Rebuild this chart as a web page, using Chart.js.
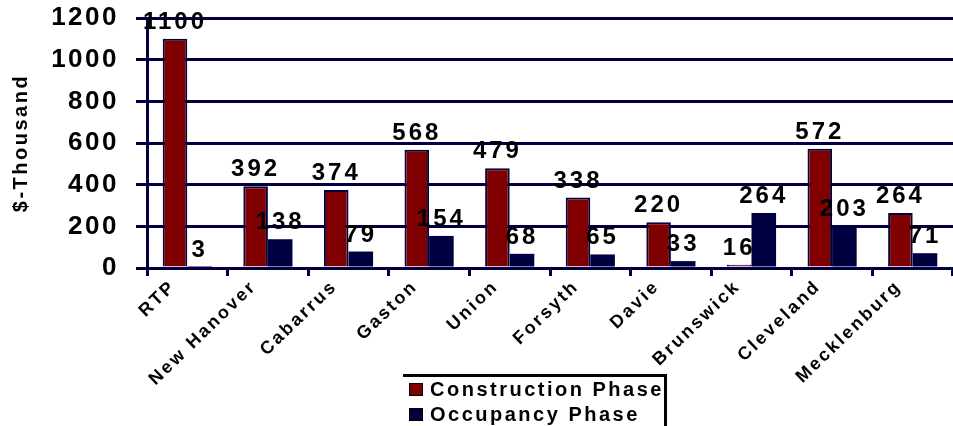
<!DOCTYPE html>
<html>
<head>
<meta charset="utf-8">
<script src="https://cdn.jsdelivr.net/npm/chart.js@4.4.1/dist/chart.umd.min.js"></script>
<style>
    html, body { margin: 0; padding: 0; background: #fff; }
    #wrap { position: relative; width: 953px; height: 426px; overflow: hidden; }
    #legend-div {
        position: absolute; left: 403px; top: 374px; width: 261px; height: 70px;
        border-top: 3px solid #000; border-right: 3px solid #000;
        font: bold 20px "Liberation Sans", Arial, sans-serif; letter-spacing: 2.5px; color: #000;
    }
    #legend-div ul { list-style: none; margin: 0; padding: 0; }
    #legend-div li { position: relative; height: 25px; line-height: 25px; padding-left: 27px; white-space: nowrap; }
    #legend-div li span { position: absolute; left: 6px; top: 6px; width: 12px; height: 11px; border: 1px solid #000; }
</style>
</head>
<body>
<div id="wrap">
    <canvas id="barChartCanvas" width="953" height="426"></canvas>
    <div id="legend-div"></div>
</div>
<script>
let counties = ['RTP', 'New Hanover', 'Cabarrus', 'Gaston', 'Union', 'Forsyth', 'Davie', 'Brunswick', 'Cleveland', 'Mecklenburg'];
let constructionPhase = [1100, 392, 374, 568, 479, 338, 220, 16, 572, 264];
let occupancyPhase = [3, 138, 79, 154, 68, 65, 33, 264, 203, 71];
let yTicks = [0, 200, 400, 600, 800, 1000, 1200];

let fontFamily = '"Liberation Sans", Arial, sans-serif';
Chart.defaults.font.family = fontFamily;

// the old chart spaces its letters wide
let spacing = {
    id: 'spacing',
    beforeUpdate: function (chart) { chart.ctx.letterSpacing = '2.5px'; },
    beforeDraw: function (chart) { chart.ctx.letterSpacing = '2.5px'; }
};

let valueLabels = {
    id: 'valueLabels',
    afterDatasetsDraw: function (chart) {
        let ctx = chart.ctx;
        ctx.save();
        ctx.font = 'bold 24px ' + fontFamily;
        ctx.letterSpacing = '3px';
        ctx.fillStyle = '#000';
        ctx.textAlign = 'center';
        ctx.textBaseline = 'alphabetic';
        chart.data.datasets.forEach(function (ds, i) {
            chart.getDatasetMeta(i).data.forEach(function (bar, j) {
                ctx.fillText(ds.data[j], bar.x, bar.y - 10);
            });
        });
        ctx.restore();
    }
};

let barChartData = {
    labels: counties,
    datasets: [{
        label: 'Construction Phase',
        data: constructionPhase,
        backgroundColor: '#800000',
        borderColor: '#000040',
        borderWidth: 2
    }, {
        label: 'Occupancy Phase',
        data: occupancyPhase,
        backgroundColor: '#000040',
        borderColor: '#000040',
        borderWidth: 0
    }]
};

let barChartDraw = function () {
    let ctx = document.getElementById('barChartCanvas').getContext('2d');

    window.barChart = new Chart(ctx, {
        type: 'bar',
        data: barChartData,
        plugins: [spacing, valueLabels],
        options: {
            responsive: false,
            animation: false,
            layout: { padding: { top: 18, right: 0, bottom: 0, left: 0 } },
            datasets: { bar: { categoryPercentage: 0.61, barPercentage: 1.0 } },
            plugins: {
                legend: { display: false },
                tooltip: { enabled: false }
            },
            scales: {
                x: {
                    grid: { display: true, drawOnChartArea: false, offset: true, color: '#000040', lineWidth: 3, tickLength: 8 },
                    border: { color: '#000040', width: 3 },
                    ticks: {
                        color: '#000', font: { size: 18, weight: 'bold' },
                        minRotation: 44, maxRotation: 44, autoSkip: false,
                        labelOffset: -14, padding: 0
                    },
                    afterFit: function (scale) { scale.height = 158; }
                },
                y: {
                    min: 0,
                    max: 1200,
                    afterBuildTicks: function (scale) {
                        scale.ticks = yTicks.map(function (v) { return { value: v }; });
                    },
                    grid: { color: '#000040', lineWidth: 3, tickLength: 11 },
                    border: { color: '#000040', width: 3 },
                    ticks: {
                        color: '#000', font: { size: 26, weight: 'bold' }, padding: 17,
                        callback: function (v) { return String(v); }
                    },
                    title: {
                        display: true, text: '$-Thousand', color: '#000',
                        font: { size: 20, weight: 'bold' }, padding: { top: 9, bottom: 0 }
                    },
                    afterFit: function (scale) {
                        scale.width = 147;
                        scale.paddingTop = 0;
                        scale.paddingBottom = 0;
                    }
                }
            }
        }
    });
};

let customLegend = function (chart) {
    let ul = document.createElement('ul');
    chart.data.datasets.forEach(function (ds) {
        ul.innerHTML += `<li><span style="background-color: ${ds.backgroundColor};"></span>${ds.label}</li>`;
    });
    return ul.outerHTML;
};

window.onload = function () {
    barChartDraw();
    document.getElementById('legend-div').innerHTML = customLegend(window.barChart);
};
</script>
</body>
</html>
